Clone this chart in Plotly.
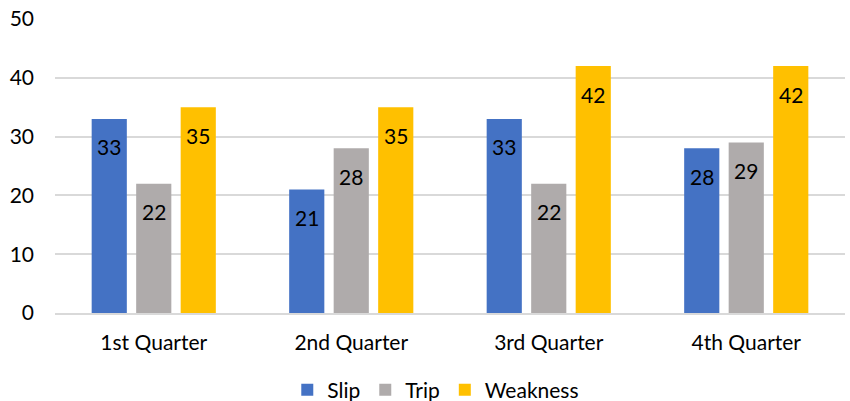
import plotly.graph_objects as go

categories = ["1st Quarter", "2nd Quarter", "3rd Quarter", "4th Quarter"]
slip = [33, 21, 33, 28]
trip = [22, 28, 22, 29]
weakness = [35, 35, 42, 42]
series_names = ["Slip", "Trip", "Weakness"]
colors = ["#4472C4", "#AFABAB", "#FFC000"]

FONT = "Lato"
FS = 21
BARGAP = 0.324

fig = go.Figure()
for name, vals, col in zip(series_names, [slip, trip, weakness], colors):
    fig.add_trace(go.Bar(
        x=list(range(len(categories))), y=vals, name=name,
        marker=dict(color=col, line=dict(width=0)),
    ))

# data labels, placed inside the top of each bar
slot = (1 - BARGAP) / len(series_names)
for k, vals in enumerate([slip, trip, weakness]):
    for i, v in enumerate(vals):
        fig.add_annotation(
            x=i + (k - 1) * slot, y=v, xref="x", yref="y", text=str(v),
            showarrow=False, yanchor="middle", yshift=-28,
            font=dict(family=FONT, size=FS, color="black"),
        )

fig.update_layout(
    width=850, height=401,
    margin=dict(l=55, r=5, t=19, b=88, autoexpand=False),
    paper_bgcolor="white", plot_bgcolor="white",
    barmode="group", bargap=BARGAP, bargroupgap=0.21,
    font=dict(family=FONT, size=FS, color="black"),
    xaxis=dict(showgrid=False, showline=True, linecolor="#D9D9D9", linewidth=1.5,
               tickmode="array", tickvals=list(range(len(categories))), ticktext=categories,
               range=[-0.5, len(categories) - 0.5],
               ticks="", tickfont=dict(size=FS), automargin=False, ticklabelstandoff=10),
    yaxis=dict(range=[0, 50], dtick=10, showgrid=True, gridcolor="#D9D9D9", gridwidth=1.5,
               zeroline=False, ticks="", tickfont=dict(size=FS), automargin=False,
               ticklabelstandoff=20),
    legend=dict(orientation="h", x=0.482, xanchor="center", y=-0.262, yanchor="middle",
                font=dict(size=FS), itemwidth=30, traceorder="normal"),
    showlegend=True,
)
fig.write_html("out.html", config={"displayModeBar": False},
               post_script="document.body.style.margin='0';")
